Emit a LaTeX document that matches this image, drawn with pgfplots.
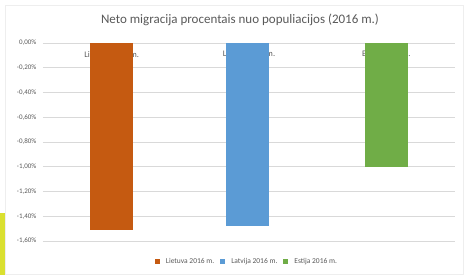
\documentclass[border=0pt]{standalone}
\usepackage{pgfplots}
\pgfplotsset{compat=1.18}
\usepackage{fontspec}
\setmainfont{Carlito}
\definecolor{txt}{RGB}{89,89,89}
\definecolor{gridc}{RGB}{217,217,217}
\definecolor{cor}{RGB}{197,90,17}
\definecolor{cbl}{RGB}{91,155,213}
\definecolor{cgr}{RGB}{112,173,71}
\definecolor{yel}{RGB}{218,224,48}
\definecolor{bord}{RGB}{238,238,238}
\begin{document}
\begin{tikzpicture}[x=1pt,y=1pt]
\path[use as bounding box] (0,0) rectangle (465,275);
\draw[bord, line width=0.8pt] (5.5,1) rectangle (463,270);
\fill[yel] (0,0) rectangle (5,62);
\node[text=txt, font=\fontsize{13}{15}\selectfont] at (240,255) {Neto migracija procentais nuo populiacijos (2016 m.)};
\begin{axis}[
  at={(43pt,34pt)}, anchor=south west,
  scale only axis, width=412pt, height=198pt,
  xmin=0, xmax=3, ymin=-1.6, ymax=0,
  hide axis,
]
\addplot[only marks, mark=none, point meta=explicit symbolic,
  nodes near coords, every node near coord/.append style={text=txt, font=\fontsize{8.5}{10}\selectfont, anchor=center}]
  table[meta=label, row sep=\\] {x y label\\ 0.5 -0.09 {Lietuva 2016 m.}\\ 1.5 -0.09 {Latvija 2016 m.}\\ 2.5 -0.09 {Estija 2016 m.}\\};
\end{axis}
\begin{axis}[
  at={(43pt,34pt)}, anchor=south west,
  scale only axis, width=412pt, height=198pt,
  xmin=0, xmax=3, ymin=-1.6, ymax=0,
  axis line style={draw=none},
  xtick=\empty,
  ytick={-1.6,-1.4,...,0.01},
  ymajorgrids, grid style={gridc, line width=0.6pt},
  major tick length=0pt,
  yticklabel style={text=txt, font=\fontsize{7}{8}\selectfont, xshift=-3pt},
  /pgf/number format/assume math mode=true,
  yticklabel={\pgfmathprintnumber[fixed,fixed zerofill,precision=2,use comma]{\tick}\%},
  legend style={at={(0.495,-0.106)}, anchor=center, legend columns=3, draw=none, fill=none,
    font=\fontsize{7.5}{9}\selectfont, text=txt, column sep=4pt},
  legend image code/.code={\fill[#1] (0pt,-2.5pt) rectangle (5pt,2.5pt);},
]
\addplot[ybar, bar width=43pt, bar shift=0pt, fill=cor, draw=none] coordinates {(0.5,-1.51)};
\addlegendentry{Lietuva 2016 m.}
\addplot[ybar, bar width=43pt, bar shift=0pt, fill=cbl, draw=none] coordinates {(1.49,-1.48)};
\addlegendentry{Latvija 2016 m.}
\addplot[ybar, bar width=43pt, bar shift=0pt, fill=cgr, draw=none] coordinates {(2.5,-1.00)};
\addlegendentry{Estija 2016 m.}
\end{axis}
\end{tikzpicture}
\end{document}
